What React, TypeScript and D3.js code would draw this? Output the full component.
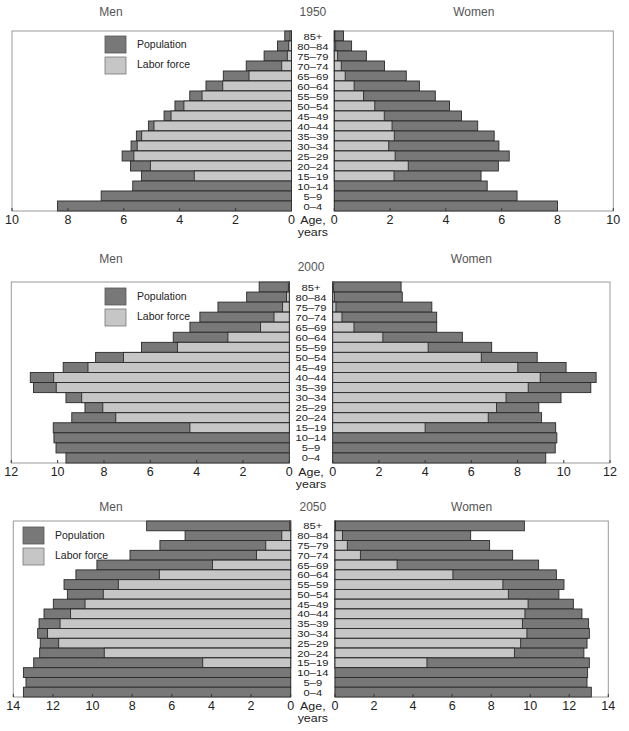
import React from "react";
import * as d3 from "d3";

const ages = ["85+", "80–84", "75–79", "70–74", "65–69", "60–64", "55–59", "50–54", "45–49", "40–44", "35–39", "30–34", "25–29", "20–24", "15–19", "10–14", "5–9", "0–4"];

const men1950Pop = [0.24, 0.5, 0.98, 1.62, 2.44, 3.06, 3.64, 4.17, 4.56, 5.12, 5.55, 5.74, 6.06, 5.76, 5.37, 5.68, 6.81, 8.37];
const men1950Lab = [0.05, 0.1, 0.15, 0.35, 1.52, 2.46, 3.2, 3.85, 4.31, 4.92, 5.36, 5.52, 5.64, 5.05, 3.48, 0, 0, 0];
const women1950Pop = [0.33, 0.62, 1.15, 1.8, 2.58, 3.05, 3.62, 4.13, 4.56, 5.14, 5.73, 5.9, 6.27, 5.88, 5.26, 5.48, 6.55, 8.0];
const women1950Lab = [0.02, 0.05, 0.12, 0.25, 0.39, 0.71, 1.05, 1.45, 1.79, 2.07, 2.15, 1.95, 2.18, 2.65, 2.14, 0, 0, 0];

const men2000Pop = [1.3, 1.84, 3.08, 3.86, 4.29, 5.01, 6.38, 8.36, 9.76, 11.18, 11.04, 9.64, 8.82, 9.39, 10.19, 10.16, 10.07, 9.64];
const men2000Lab = [0.04, 0.12, 0.29, 0.66, 1.24, 2.65, 4.83, 7.16, 8.69, 10.17, 10.06, 8.96, 8.05, 7.49, 4.29, 0, 0, 0];
const women2000Pop = [2.96, 3.01, 4.29, 4.5, 4.5, 5.61, 6.88, 8.85, 10.1, 11.4, 11.17, 9.88, 8.92, 9.04, 9.65, 9.7, 9.63, 9.22];
const women2000Lab = [0.04, 0.07, 0.14, 0.4, 0.92, 2.17, 4.13, 6.43, 8.01, 8.98, 8.46, 7.5, 7.09, 6.73, 4.0, 0, 0, 0];

const men2050Pop = [7.27, 5.33, 6.6, 8.11, 9.78, 10.84, 11.44, 11.27, 11.98, 12.45, 12.7, 12.77, 12.64, 12.67, 12.97, 13.49, 13.36, 13.49];
const men2050Lab = [0.05, 0.45, 1.26, 1.73, 3.95, 6.63, 8.7, 9.46, 10.38, 11.11, 11.64, 12.27, 11.71, 9.41, 4.44, 0, 0, 0];
const women2050Pop = [9.7, 6.95, 7.92, 9.1, 10.43, 11.34, 11.73, 11.47, 12.21, 12.65, 12.99, 13.03, 12.91, 12.75, 13.03, 12.94, 12.91, 13.13];
const women2050Lab = [0.03, 0.38, 0.63, 1.3, 3.18, 6.04, 8.6, 8.88, 9.89, 9.73, 9.6, 9.83, 9.51, 9.19, 4.71, 0, 0, 0];

const years = ["1950", "2000", "2050"];
const maxValues = [10, 12, 14];
const tickSets = [[0, 2, 4, 6, 8, 10], [0, 2, 4, 6, 8, 10, 12], [0, 2, 4, 6, 8, 10, 12, 14]];
const legendLabels = ["Population", "Labor force"];

const panels = [
  { year: years[0], max: maxValues[0], ticks: tickSets[0], menPop: men1950Pop, menLab: men1950Lab, womenPop: women1950Pop, womenLab: women1950Lab,
    top: 31, bottom: 211, lx0: 12, lx1: 291.5, rx0: 334.3, rx1: 613.3, titleY: 12, yearY: 12, legendX: 105, legendY: 36 },
  { year: years[1], max: maxValues[1], ticks: tickSets[1], menPop: men2000Pop, menLab: men2000Lab, womenPop: women2000Pop, womenLab: women2000Lab,
    top: 282, bottom: 463, lx0: 11.3, lx1: 289.3, rx0: 332.7, rx1: 610, titleY: 259, yearY: 267, legendX: 105, legendY: 288 },
  { year: years[2], max: maxValues[2], ticks: tickSets[2], menPop: men2050Pop, menLab: men2050Lab, womenPop: women2050Pop, womenLab: women2050Lab,
    top: 521, bottom: 697, lx0: 13.3, lx1: 290.7, rx0: 335, rx1: 608.3, titleY: 507, yearY: 507, legendX: 23, legendY: 527 },
];

const DARK = "#787878";
const LIGHT = "#c6c6c6";
const EDGE = "#2a2a2a";
const FONT = "'Liberation Sans', Arial, Helvetica, sans-serif";

function Panel({ p }: { p: typeof panels[number] }) {
  const y = d3.scaleBand<string>().domain(ages).range([p.top, p.bottom]).padding(0);
  const xl = d3.scaleLinear().domain([p.max, 0]).range([p.lx0, p.lx1]);
  const xr = d3.scaleLinear().domain([0, p.max]).range([p.rx0, p.rx1]);
  const bh = y.bandwidth();
  const ageX = (p.lx1 + p.rx0) / 2;
  const tickY = p.bottom + 8.5;
  return (
    <g>
      {/* titles */}
      <text x={111} y={p.titleY} fill="#555" fontSize={12} textAnchor="middle" dominantBaseline="central" fontFamily={FONT}>Men</text>
      <text x={ageX} y={p.yearY} fill="#555" fontSize={12} textAnchor="middle" dominantBaseline="central" fontFamily={FONT}>{p.year}</text>
      <text x={(p.rx0 + p.rx1) / 2} y={p.titleY} fill="#555" fontSize={12} textAnchor="middle" dominantBaseline="central" fontFamily={FONT}>Women</text>

      {/* frames */}
      <rect x={p.lx0} y={p.top} width={p.lx1 - p.lx0} height={p.bottom - p.top} fill="white" stroke="#9a9a9a" strokeWidth={1} />
      <rect x={p.rx0} y={p.top} width={p.rx1 - p.rx0} height={p.bottom - p.top} fill="white" stroke="#9a9a9a" strokeWidth={1} />

      {/* men bars */}
      {ages.map((a, i) => (
        <g key={"m" + a}>
          <rect x={xl(p.menPop[i])} y={y(a)} width={xl(0) - xl(p.menPop[i])} height={bh} fill={DARK} stroke={EDGE} strokeWidth={0.9} />
          {p.menLab[i] > 0 && (
            <rect x={xl(p.menLab[i])} y={y(a)} width={xl(0) - xl(p.menLab[i])} height={bh} fill={LIGHT} stroke={EDGE} strokeWidth={0.9} />
          )}
        </g>
      ))}
      {/* women bars */}
      {ages.map((a, i) => (
        <g key={"w" + a}>
          <rect x={xr(0)} y={y(a)} width={xr(p.womenPop[i]) - xr(0)} height={bh} fill={DARK} stroke={EDGE} strokeWidth={0.9} />
          {p.womenLab[i] > 0 && (
            <rect x={xr(0)} y={y(a)} width={xr(p.womenLab[i]) - xr(0)} height={bh} fill={LIGHT} stroke={EDGE} strokeWidth={0.9} />
          )}
        </g>
      ))}

      {/* ticks */}
      {p.ticks.map((t) => (
        <g key={"t" + t}>
          <line x1={xl(t)} x2={xl(t)} y1={p.bottom} y2={p.bottom - 3} stroke="#333" />
          <line x1={xr(t)} x2={xr(t)} y1={p.bottom} y2={p.bottom - 3} stroke="#333" />
          <text x={xl(t)} y={tickY} fontSize={12.5} fill="#222" textAnchor="middle" dominantBaseline="central" fontFamily={FONT}>{t}</text>
          <text x={xr(t)} y={tickY} fontSize={12.5} fill="#222" textAnchor="middle" dominantBaseline="central" fontFamily={FONT}>{t}</text>
        </g>
      ))}

      {/* age labels */}
      {ages.map((a) => (
        <text key={"a" + a} transform={`translate(${ageX},${(y(a) as number) + bh / 2 + 0.5}) scale(1.3,1)`} fontSize={8.6} fill="#222" textAnchor="middle" dominantBaseline="central" fontFamily={FONT}>{a}</text>
      ))}
      <text x={ageX} y={tickY} fontSize={10.8} fill="#222" textAnchor="middle" dominantBaseline="central" fontFamily={FONT} transform={`translate(${ageX},0) scale(1.15,1) translate(${-ageX},0)`}>Age,</text>
      <text x={ageX} y={tickY + 12.4} fontSize={10.8} fill="#222" textAnchor="middle" dominantBaseline="central" fontFamily={FONT} transform={`translate(${ageX},0) scale(1.15,1) translate(${-ageX},0)`}>years</text>

      {/* legend */}
      <rect x={p.legendX} y={p.legendY} width={21} height={17} fill={DARK} stroke="#555" strokeWidth={0.8} />
      <rect x={p.legendX} y={p.legendY + 21} width={21} height={17} fill={LIGHT} stroke="#777" strokeWidth={0.8} />
      <text x={p.legendX + 32} y={p.legendY + 7.5} fontSize={10.5} fill="#222" dominantBaseline="central" fontFamily={FONT}>{legendLabels[0]}</text>
      <text x={p.legendX + 32} y={p.legendY + 28} fontSize={10.5} fill="#222" dominantBaseline="central" fontFamily={FONT}>{legendLabels[1]}</text>
    </g>
  );
}

export default function App() {
  return (
    <svg width={629} height={731} style={{ position: "absolute", left: 0, top: 0, background: "white" }}>
      <rect x={0} y={0} width={629} height={731} fill="white" />
      {panels.map((p) => (
        <Panel key={p.year} p={p} />
      ))}
    </svg>
  );
}
